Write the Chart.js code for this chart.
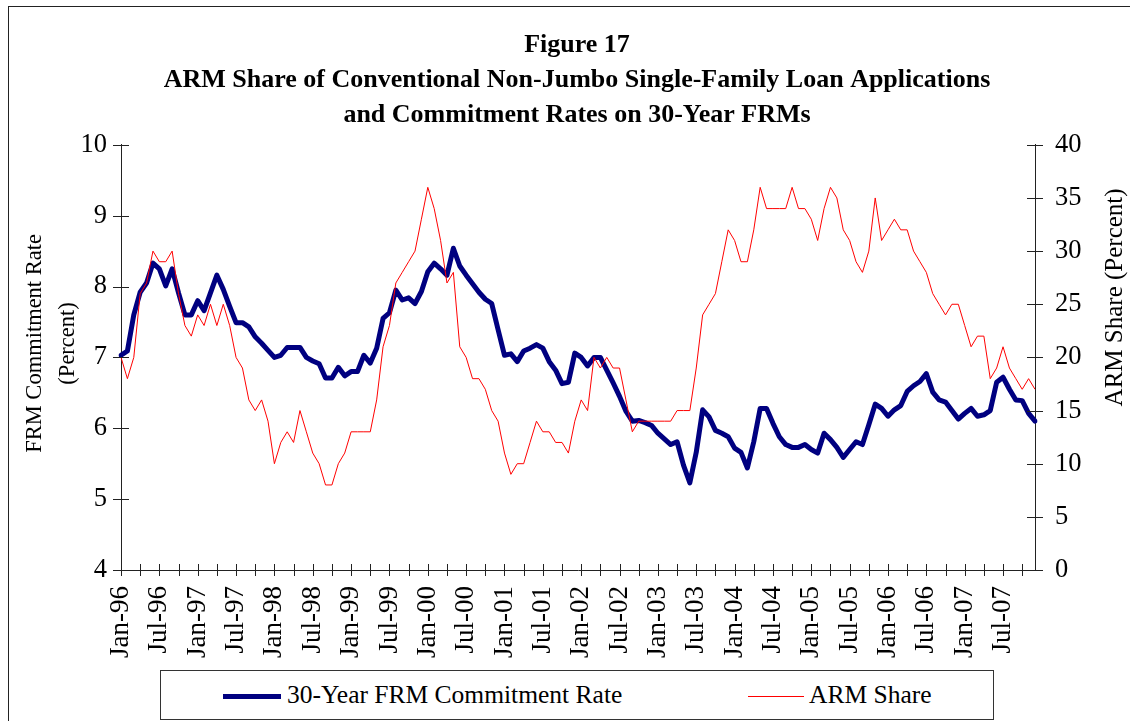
<!DOCTYPE html>
<html>
<head>
<meta charset="utf-8">
<script src="https://cdn.jsdelivr.net/npm/chart.js@4"></script>
<style>
  html, body { margin: 0; padding: 0; background: #fff; }
  #wrap { position: relative; width: 1130px; height: 721px; overflow: hidden; }
  #frame { position: absolute; left: 8px; top: 6px; width: 1130px; height: 730px; border-left: 1px solid #222; border-top: 1px solid #222; }
  canvas { position: absolute; left: 0; top: 0; }
  #legend { position: absolute; left: 160px; top: 670px; width: 832px; height: 48px; border: 1px solid #333; background: #fff;
            font-family: "Liberation Serif", "Times New Roman", serif; font-size: 25.5px; color: #000; }
  .item { position: absolute; top: 0; height: 48px; line-height: 48px; white-space: nowrap; }
  .sample { position: absolute; }
</style>
</head>
<body>
<div id="wrap">
  <div id="frame"></div>
  <canvas id="c" width="1130" height="721"></canvas>
  <div id="legend"></div>
</div>
<script>
// ---- Data ----
const monthNames = ["Jan","Feb","Mar","Apr","May","Jun","Jul","Aug","Sep","Oct","Nov","Dec"];
const years = ["96","97","98","99","00","01","02","03","04","05","06","07"];
const categories = [];
years.forEach(y => monthNames.forEach(m => categories.push(m + "-" + y)));

const frmRate = [
  7.03, 7.09, 7.60, 7.92, 8.05, 8.33, 8.25, 8.01, 8.25, 7.91, 7.60, 7.60,
  7.80, 7.66, 7.91, 8.16, 7.96, 7.72, 7.49, 7.49, 7.43, 7.29, 7.20, 7.10,
  7.00, 7.03, 7.14, 7.14, 7.14, 7.00, 6.95, 6.91, 6.71, 6.71, 6.86, 6.74,
  6.80, 6.80, 7.03, 6.92, 7.13, 7.55, 7.63, 7.95, 7.81, 7.84, 7.76, 7.93,
  8.21, 8.33, 8.25, 8.16, 8.54, 8.29, 8.16, 8.04, 7.92, 7.82, 7.76, 7.39,
  7.03, 7.05, 6.94, 7.09, 7.13, 7.18, 7.13, 6.94, 6.82, 6.63, 6.65, 7.06,
  7.00, 6.88, 7.00, 7.00, 6.82, 6.64, 6.45, 6.24, 6.10, 6.11, 6.08, 6.04,
  5.93, 5.85, 5.77, 5.81, 5.48, 5.23, 5.66, 6.26, 6.16, 5.97, 5.93, 5.88,
  5.72, 5.66, 5.44, 5.81, 6.28, 6.28, 6.07, 5.88, 5.77, 5.73, 5.73, 5.77,
  5.70, 5.65, 5.93, 5.84, 5.73, 5.59, 5.70, 5.81, 5.77, 6.05, 6.34, 6.28,
  6.17, 6.26, 6.32, 6.52, 6.60, 6.66, 6.77, 6.51, 6.40, 6.37, 6.25, 6.13,
  6.21, 6.28, 6.17, 6.19, 6.25, 6.65, 6.72, 6.55, 6.40, 6.39, 6.21, 6.10
];

const armShare = [
  20, 18, 20, 26, 27, 30, 29, 29, 30, 26, 23, 22,
  24, 23, 25, 23, 25, 23, 20, 19, 16, 15, 16, 14,
  10, 12, 13, 12, 15, 13, 11, 10, 8, 8, 10, 11,
  13, 13, 13, 13, 16, 21, 23, 27, 28, 29, 30, 33,
  36, 34, 31, 27, 28, 21, 20, 18, 18, 17, 15, 14,
  11, 9, 10, 10, 12, 14, 13, 13, 12, 12, 11, 14,
  16, 15, 20, 19, 20, 19, 19, 16, 13, 14, 14, 14,
  14, 14, 14, 15, 15, 15, 19, 24, 25, 26, 29, 32,
  31, 29, 29, 32, 36, 34, 34, 34, 34, 36, 34, 34,
  33, 31, 34, 36, 35, 32, 31, 29, 28, 30, 35, 31,
  32, 33, 32, 32, 30, 29, 28, 26, 25, 24, 25, 25,
  23, 21, 22, 22, 18, 19, 21, 19, 18, 17, 18, 17
];

const titleLines = [
  "Figure 17",
  "ARM Share of Conventional Non-Jumbo Single-Family Loan Applications",
  "and Commitment Rates on 30-Year FRMs"
];
const leftTitle = ["FRM Commitment Rate", "(Percent)"];
const rightTitle = "ARM Share (Percent)";
const seriesNames = ["30-Year FRM Commitment Rate", "ARM Share"];

const SERIF = '"Liberation Serif", "Times New Roman", serif';

// cross tick marks + axis titles
const decor = {
  id: 'decor',
  afterDraw(chart) {
    const ctx = chart.ctx;
    const ca = chart.chartArea;
    const x = chart.scales.x, y = chart.scales.y, y2 = chart.scales.y2;
    ctx.save();
    ctx.strokeStyle = '#222';
    ctx.lineWidth = 1;
    ctx.beginPath();
    y.ticks.forEach(t => {
      const p = Math.round(y.getPixelForValue(t.value)) + 0.5;
      ctx.moveTo(ca.left - 8, p); ctx.lineTo(ca.left + 8, p);
    });
    y2.ticks.forEach(t => {
      const p = Math.round(y2.getPixelForValue(t.value)) + 0.5;
      ctx.moveTo(ca.right - 8, p); ctx.lineTo(ca.right + 8, p);
    });
    for (let i = 0; i < categories.length; i += 3) {
      const p = Math.round(x.getPixelForValue(i)) + 0.5;
      ctx.moveTo(p, ca.bottom - 6); ctx.lineTo(p, ca.bottom + 6);
    }
    ctx.stroke();

    ctx.fillStyle = '#000';
    ctx.textAlign = 'center';
    ctx.textBaseline = 'middle';
    ctx.font = '22.5px ' + SERIF;
    const cy = (ca.top + ca.bottom) / 2 - 14;
    ctx.save();
    ctx.translate(35, cy); ctx.rotate(-Math.PI / 2);
    ctx.fillText(leftTitle[0], 0, 0);
    ctx.restore();
    ctx.save();
    ctx.translate(68, cy); ctx.rotate(-Math.PI / 2);
    ctx.fillText(leftTitle[1], 0, 0);
    ctx.restore();
    ctx.font = '25px ' + SERIF;
    ctx.save();
    ctx.translate(1115, cy - 46); ctx.rotate(-Math.PI / 2);
    ctx.fillText(rightTitle, 0, 0);
    ctx.restore();
    ctx.restore();
  }
};

const chart = new Chart(document.getElementById('c'), {
  type: 'line',
  data: {
    labels: categories,
    datasets: [
      { label: seriesNames[0], data: frmRate, yAxisID: 'y', borderColor: '#000080', backgroundColor: '#000080',
        borderWidth: 5, pointRadius: 0, tension: 0, borderJoinStyle: 'round', borderCapStyle: 'round', order: 1 },
      { label: seriesNames[1], data: armShare, yAxisID: 'y2', borderColor: '#ff0000', backgroundColor: '#ff0000',
        borderWidth: 1, pointRadius: 0, tension: 0, order: 0 }
    ]
  },
  options: {
    responsive: false,
    animation: false,
    devicePixelRatio: 1,
    layout: { padding: { top: 0, left: 24, right: 0, bottom: 51 } },
    plugins: {
      legend: { display: false },
      tooltip: { enabled: false },
      title: {
        display: true, text: titleLines, color: '#000',
        font: { family: SERIF, size: 26, weight: 'bold', lineHeight: 1.35 },
        padding: { top: 27.5, bottom: 12 }
      }
    },
    scales: {
      x: {
        type: 'category', offset: false,
        grid: { display: false, drawTicks: false },
        border: { display: true, color: '#222', width: 1 },
        ticks: {
          autoSkip: false, maxRotation: 90, minRotation: 90, padding: 16, color: '#000',
          font: { family: SERIF, size: 27 },
          callback: (v, i) => (i % 6 === 0 ? categories[i] : '')
        },
        afterFit: s => { s.height = 100; }
      },
      y: {
        position: 'left', min: 4, max: 10,
        grid: { display: false, drawTicks: false },
        border: { display: true, color: '#222', width: 1 },
        ticks: { stepSize: 1, padding: 14, color: '#000', font: { family: SERIF, size: 26.5 } },
        afterFit: s => { s.width = 97; }
      },
      y2: {
        position: 'right', min: 0, max: 40,
        grid: { display: false, drawTicks: false },
        border: { display: true, color: '#222', width: 1 },
        ticks: { stepSize: 5, padding: 20, color: '#000', font: { family: SERIF, size: 26.5 } },
        afterFit: s => { s.width = 95; }
      }
    }
  },
  plugins: [decor]
});

// legend built from the chart's datasets
const legendPos = [{ sample: 62, text: 126 }, { sample: 587, text: 648 }];
const lg = document.getElementById('legend');
chart.data.datasets.forEach((ds, k) => {
  const s = document.createElement('div');
  s.className = 'sample';
  s.style.left = legendPos[k].sample + 'px';
  s.style.width = (k === 0 ? 58 : 56) + 'px';
  s.style.height = ds.borderWidth + 'px';
  s.style.top = (25 - ds.borderWidth / 2) + 'px';
  s.style.background = ds.borderColor;
  lg.appendChild(s);
  const t = document.createElement('div');
  t.className = 'item';
  t.style.left = legendPos[k].text + 'px';
  t.textContent = ds.label;
  lg.appendChild(t);
});
</script>
</body>
</html>
